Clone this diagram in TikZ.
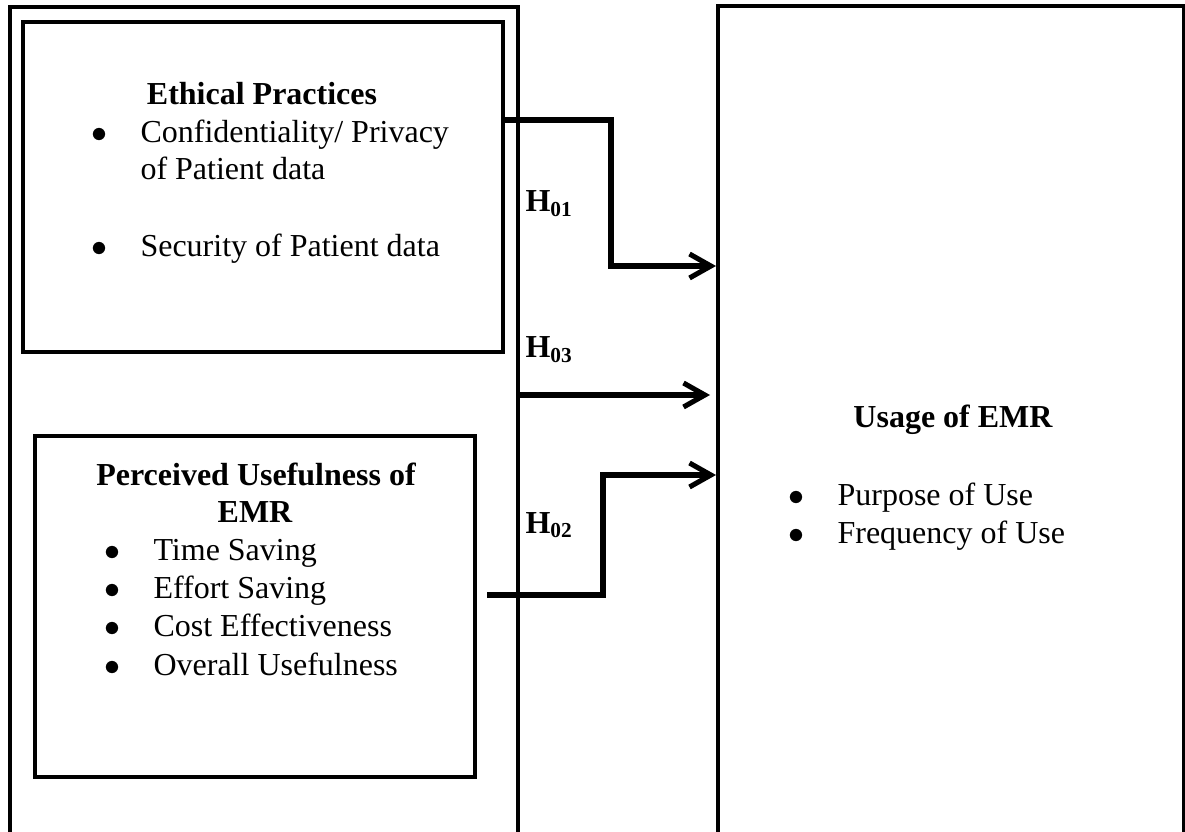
\documentclass[tikz,border=0pt,12pt]{standalone}
\usepackage{fontspec}
\setmainfont{Liberation Serif}
\usetikzlibrary{arrows.meta,positioning,fit}

\newcommand{\itemdot}{\makebox[0pt][r]{$\bullet$\hspace{12.4pt}}}

\begin{document}
\begin{tikzpicture}[x=0.375pt, y=-0.375pt,
  frame/.style={draw, line width=1.5pt, inner sep=0pt},
  txt/.style={inner sep=0pt, anchor=base west},
  head/.style={inner sep=0pt, anchor=base, font=\bfseries},
  link/.style={line width=1.9pt, -{Straight Barb[length=8pt,width=9pt]}}]
\clip (0,0) rectangle (1185,832);

% frames (left and right run off the bottom edge)
\node[frame, fit={(10,7) (518,870)}] (left) {};
\node[frame, fit={(718,6) (1184,870)}] (usage) {};
\node[frame, fit={(22.5,22.5) (502.5,352.5)}] (eth) {};
\node[frame, fit={(35,436.5) (474.5,776.5)}] (pu) {};

% Ethical practices
\node[head] (ethhead) at (262,105) {Ethical Practices};
\node[txt] (eth1) at (140,143) {\itemdot Confidentiality/ Privacy};
\node[txt] (eth1b) at (140,180) {of Patient data};
\node[txt] (eth2) at (140,257) {\itemdot Security of Patient data};

% Perceived usefulness
\node[head] (puhead) at (256,485) {Perceived Usefulness of};
\node[head] (puhead2) at (255,522) {EMR};
\foreach \t [count=\i] in {Time Saving, Effort Saving, Cost Effectiveness, Overall Usefulness}
  \node[txt] (pu\i) at (153,522+38.3*\i) {\itemdot \t};

% Usage of EMR
\node[head] (ushead) at (953,428) {Usage of EMR};
\node[txt] (us1) at (837,505) {\itemdot Purpose of Use};
\node[txt] (us2) at (837,543) {\itemdot Frequency of Use};

% hypotheses
\node[txt, font=\bfseries] (h01) at (525,212) {H\textsubscript{01}};
\node[txt, font=\bfseries] (h03) at (525,358) {H\textsubscript{03}};
\node[txt, font=\bfseries] (h02) at (525,533) {H\textsubscript{02}};

% links
\coordinate (h03end) at (710,395);
\coordinate (h02start) at (487,595);
\draw[link] (eth.east |- 0,120) -| (611,266) -- (usage.west |- 0,266);
\draw[link] (left.east |- 0,395) -- (h03end);
\draw[link] (h02start) -| (603,475) -- (usage.west |- 0,475);
\end{tikzpicture}
\end{document}
